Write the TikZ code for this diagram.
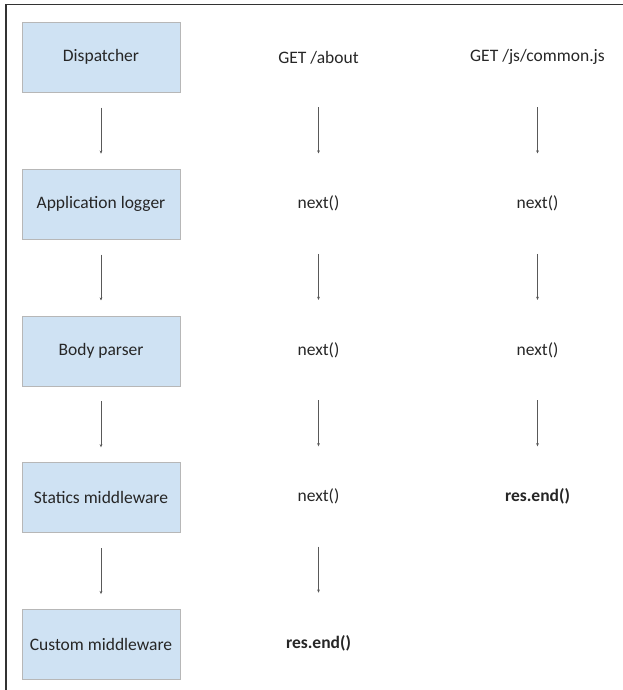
\documentclass[tikz,border=0pt]{standalone}
\usepackage{fontspec}
\setmainfont{Carlito}
\usetikzlibrary{arrows.meta,positioning}
\definecolor{boxblue}{HTML}{CFE2F3}
\definecolor{boxline}{HTML}{B7B7B7}
\definecolor{inkgray}{HTML}{262626}
\tikzset{
	stage/.style={draw=boxline,line width=0.8pt,fill=boxblue,minimum width=158pt,minimum height=70pt,inner sep=0pt,font=\fontsize{17.5}{21}\selectfont,text=inkgray},
	call/.style={minimum width=158pt,minimum height=70pt,inner sep=0pt,font=\fontsize{17.5}{21}\selectfont,text=inkgray},
	flow/.style={draw=black!65,line width=0.8pt,-{Stealth[length=3.2pt,width=2.8pt]},shorten <=15pt,shorten >=15pt}
}
\begin{document}
\begin{tikzpicture}[x=1pt,y=-1pt]
				\useasboundingbox (0,0) rectangle (623,690);
				\draw[line width=1.4pt,black!80] (6,690)--(6,4.5)--(623,4.5);
				% middleware stack
				\node[stage] (disp) at (101,57.3) {Dispatcher};
				\node[stage,below=76pt of disp] (logger) {Application logger};
				\node[stage,below=76pt of logger] (body) {Body parser};
				\node[stage,below=76pt of body] (statics) {Statics middleware};
				\node[stage,below=76pt of statics] (custom) {Custom middleware};
				% GET /about
				\node[call] (about) at (318.5,57.3) {GET /about};
				\node[call,below=76pt of about] (aboutA) {next()};
				\node[call,below=76pt of aboutA] (aboutB) {next()};
				\node[call,below=76pt of aboutB] (aboutC) {next()};
				\node[call,below=76pt of aboutC] (aboutD) {\textbf{res.end()}};
				% GET /js/common.js
				\node[call] (common) at (537.5,57.3) {GET /js/common.js};
				\node[call,below=76pt of common] (commonA) {next()};
				\node[call,below=76pt of commonA] (commonB) {next()};
				\node[call,below=76pt of commonB] (commonC) {\textbf{res.end()}};
				\draw[flow] (disp)--(logger);
				\draw[flow] (logger)--(body);
				\draw[flow] (body)--(statics);
				\draw[flow] (statics)--(custom);
				\draw[flow] (about)--(aboutA);
				\draw[flow] (aboutA)--(aboutB);
				\draw[flow] (aboutB)--(aboutC);
				\draw[flow] (aboutC)--(aboutD);
				\draw[flow] (common)--(commonA);
				\draw[flow] (commonA)--(commonB);
				\draw[flow] (commonB)--(commonC);
			\end{tikzpicture}
\end{document}
